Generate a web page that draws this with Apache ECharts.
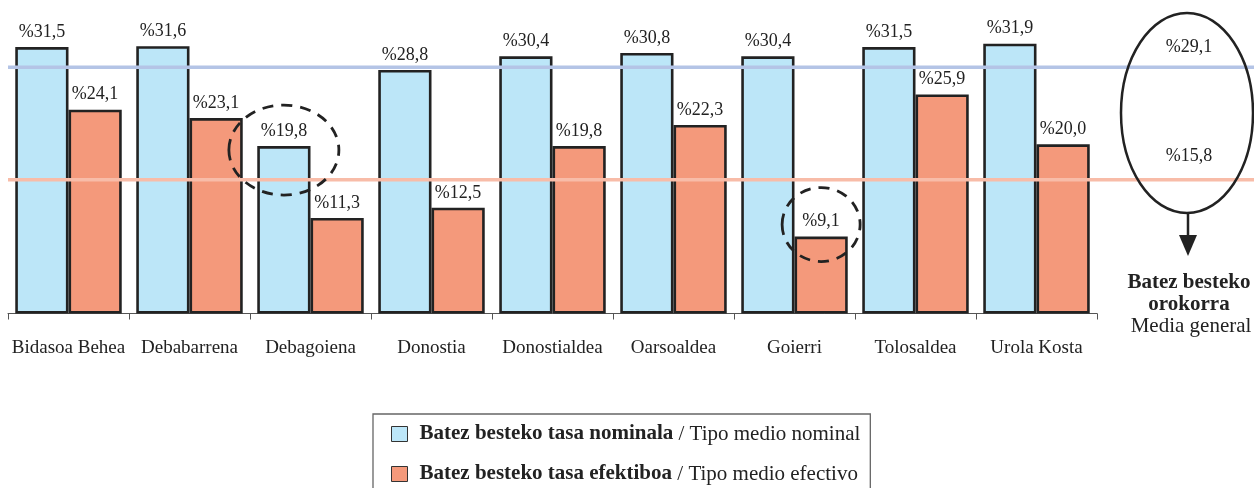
<!DOCTYPE html>
<html>
<head>
<meta charset="utf-8">
<script src="https://cdn.jsdelivr.net/npm/echarts@6/dist/echarts.min.js"></script>
<style>
html,body{margin:0;padding:0;background:#fff;}
#c{width:1254px;height:488px;}
</style>
</head>
<body>
<div id="c"></div>
<script>
const categories = ['Bidasoa Behea','Debabarrena','Debagoiena','Donostia','Donostialdea','Oarsoaldea','Goierri','Tolosaldea','Urola Kosta'];
const nominal = [31.5, 31.6, 19.8, 28.8, 30.4, 30.8, 30.4, 31.5, 31.9];
const efectivo = [24.1, 23.1, 11.3, 12.5, 19.8, 22.3, 9.1, 25.9, 20.0];
const seriesNames = ['Batez besteko tasa nominala', 'Batez besteko tasa efektiboa'];
const seriesNamesEs = ['Tipo medio nominal', 'Tipo medio efectivo'];
const generalMeans = [29.1, 15.8];
const generalTitle = ['Batez besteko', 'orokorra'];
const generalSub = 'Media general';
const highlighted = [{ series: 0, index: 2 }, { series: 1, index: 6 }];

const FONT = '"Liberation Serif", "Times New Roman", serif';
const BLUE = '#bce6f8';
const ORANGE = '#f4997b';
const BLUE_LINE = '#b4c4e6';
const ORANGE_LINE = '#f8bca8';
const INK = '#222';
const BAR_PCT = 0.44;

const fmt = v => '%' + v.toFixed(1).replace('.', ',');

const chart = echarts.init(document.getElementById('c'), null, { renderer: 'canvas' });

const labelCfg = {
  show: true, position: 'top', distance: 6,
  fontFamily: FONT, fontSize: 18, color: INK,
  formatter: p => fmt(p.value)
};

chart.setOption({
  animation: false,
  backgroundColor: '#fff',
  grid: { left: 8, right: 157, top: 9, bottom: 174.5, containLabel: false },
  xAxis: {
    type: 'category', data: categories,
    axisLine: { show: true, lineStyle: { color: '#555', width: 1 } },
    axisTick: { show: true, length: 6, lineStyle: { color: '#555' } },
    axisLabel: { fontFamily: FONT, fontSize: 19, color: INK, margin: 25, interval: 0 }
  },
  yAxis: { type: 'value', min: 0, max: 36, show: false, splitLine: { show: false } },
  legend: {
    orient: 'vertical', left: 373, top: 414, height: 300,
    padding: [8, 10, 40, 18],
    borderColor: '#666', borderWidth: 1.3,
    icon: 'rect',
    itemWidth: 16, itemHeight: 15, itemGap: 16,
    itemStyle: { borderColor: '#333', borderWidth: 1 },
    data: seriesNames,
    formatter: name => {
      const i = seriesNames.indexOf(name);
      return '{b|' + name + '}{r| / ' + seriesNamesEs[i] + '}';
    },
    textStyle: {
      fontFamily: FONT, fontSize: 21, color: INK, lineHeight: 24,
      padding: [0, 0, 0, 7],
      rich: {
        b: { fontFamily: FONT, fontSize: 21, fontWeight: 'bold', color: INK, lineHeight: 24 },
        r: { fontFamily: FONT, fontSize: 21, color: INK, lineHeight: 24 }
      }
    }
  },
  series: [
    {
      name: seriesNames[0], type: 'bar', data: nominal,
      barWidth: (BAR_PCT * 100) + '%', barGap: '0%',
      itemStyle: { color: BLUE, borderColor: INK, borderWidth: 2.6 },
      label: labelCfg
    },
    {
      name: seriesNames[1], type: 'bar', data: efectivo,
      barWidth: (BAR_PCT * 100) + '%', barGap: '0%',
      itemStyle: { color: ORANGE, borderColor: INK, borderWidth: 2.6 },
      label: labelCfg
    }
  ]
});

function px(x, y) { return chart.convertToPixel({ xAxisIndex: 0, yAxisIndex: 0 }, [x, y]); }

const c0 = px(0, 0), c1 = px(1, 0);
const band = c1[0] - c0[0];
const barW = band * BAR_PCT;
const axisLeft = c0[0] - band / 2;

const yBlue = px(0, generalMeans[0])[1];
const yOrange = px(0, generalMeans[1])[1];

const elements = [];
elements.push({ type: 'line', z: 100, shape: { x1: axisLeft, y1: yBlue, x2: 1254, y2: yBlue }, style: { stroke: BLUE_LINE, lineWidth: 3.5 } });
elements.push({ type: 'line', z: 100, shape: { x1: axisLeft, y1: yOrange, x2: 1254, y2: yOrange }, style: { stroke: ORANGE_LINE, lineWidth: 3.5 } });

highlighted.forEach(h => {
  const vals = h.series === 0 ? nominal : efectivo;
  const p = px(h.index, vals[h.index]);
  const cx = p[0] + (h.series === 0 ? -barW / 2 : barW / 2);
  const big = h.series === 0;
  elements.push({
    type: 'ellipse', z: 110,
    shape: { cx: cx, cy: p[1] + (big ? 4 : -12), rx: big ? 55 : 39, ry: big ? 45 : 37 },
    style: { fill: null, stroke: INK, lineWidth: 2.8, lineDash: [11, 8] }
  });
});

const ecx = 1187;
elements.push({ type: 'ellipse', z: 110, shape: { cx: ecx, cy: 113, rx: 66, ry: 100 }, style: { fill: null, stroke: INK, lineWidth: 2.5 } });
elements.push({ type: 'text', z: 120, style: { text: fmt(generalMeans[0]), x: ecx + 2, y: yBlue - 20, align: 'center', verticalAlign: 'middle', font: '18px ' + FONT, fill: INK } });
elements.push({ type: 'text', z: 120, style: { text: fmt(generalMeans[1]), x: ecx + 2, y: yOrange - 24, align: 'center', verticalAlign: 'middle', font: '18px ' + FONT, fill: INK } });
elements.push({ type: 'line', z: 110, shape: { x1: ecx + 1, y1: 213, x2: ecx + 1, y2: 238 }, style: { stroke: INK, lineWidth: 2.5 } });
elements.push({ type: 'polygon', z: 110, shape: { points: [[ecx - 8, 235], [ecx + 10, 235], [ecx + 1, 256]] }, style: { fill: INK } });
elements.push({ type: 'text', z: 120, style: { text: generalTitle[0], x: ecx + 2, y: 283, align: 'center', verticalAlign: 'middle', font: 'bold 21px ' + FONT, fill: INK } });
elements.push({ type: 'text', z: 120, style: { text: generalTitle[1], x: ecx + 2, y: 305, align: 'center', verticalAlign: 'middle', font: 'bold 21px ' + FONT, fill: INK } });
elements.push({ type: 'text', z: 120, style: { text: generalSub, x: ecx + 4, y: 326, align: 'center', verticalAlign: 'middle', font: '21px ' + FONT, fill: INK } });

chart.setOption({ graphic: { elements: elements } });
</script>
</body>
</html>
